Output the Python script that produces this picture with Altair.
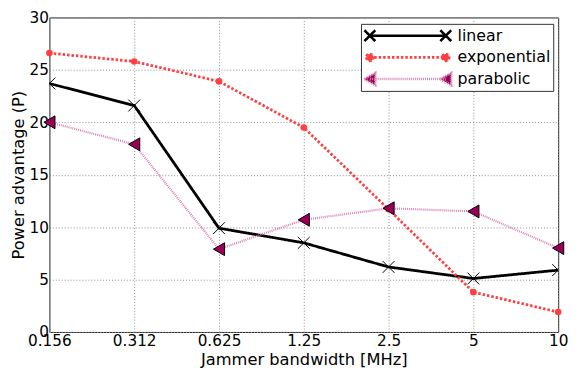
import altair as alt
import pandas as pd

# ---- data ----
bandwidth = ["0.156", "0.312", "0.625", "1.25", "2.5", "5", "10"]
series = ["linear", "exponential", "parabolic"]
linear = [23.7, 21.6, 9.9, 8.5, 6.2, 5.1, 5.9]
exponential = [26.6, 25.8, 23.9, 19.5, 11.7, 3.8, 1.9]
parabolic = [20.0, 17.9, 7.9, 10.7, 11.8, 11.5, 8.0]
y_ticks = [0, 5, 10, 15, 20, 25, 30]

values = {"linear": linear, "exponential": exponential, "parabolic": parabolic}
rows = []
for s in series:
    for bw, v in zip(bandwidth, values[s]):
        rows.append({"series": s, "bw": bw, "value": v})
df = pd.DataFrame(rows)

# ---- styles ----
FONT = "DejaVu Sans"
line_colors = ["#000000", "#ff4040", "#d982b5"]
dashes = [[1, 0], [2.5, 2], [1, 1]]
X_PATH = "M-1,-1L1,1M-1,1L1,-1"

leg_lin = ("M-0.875,0L0.875,0 M-1,-0.125L-0.75,0.125 M-1,0.125L-0.75,-0.125 "
           "M0.75,-0.125L1,0.125 M0.75,0.125L1,-0.125")
leg_exp = ("M-0.875,0L0.875,0 M-0.955,0A0.08,0.08 0 1,0 -0.795,0A0.08,0.08 0 1,0 -0.955,0Z "
           "M0.795,0A0.08,0.08 0 1,0 0.955,0A0.08,0.08 0 1,0 0.795,0Z")
leg_par = "M-0.875,0L0.875,0 M-1,0L-0.75,-0.14L-0.75,0.14Z M0.75,0L1,-0.14L1,0.14Z"

shape_expr = (f"datum.value === 'linear' ? '{leg_lin}' : "
              f"datum.value === 'exponential' ? '{leg_exp}' : '{leg_par}'")
fill_expr = ("datum.value === 'linear' ? 'transparent' : "
             "datum.value === 'exponential' ? '#ff4040' : '#990055'")
dash_expr = ("datum.value === 'exponential' ? [2.5, 2] : "
             "datum.value === 'parabolic' ? [1, 1] : [1, 0]")

x_enc = alt.X(
    "bw:N",
    sort=bandwidth,
    scale=alt.Scale(type="point", padding=0),
    axis=alt.Axis(title="Jammer bandwidth [MHz]", labelAngle=0, labelFlush=False,
                  labelOverlap=False, labelPadding=2, titlePadding=3),
)
y_enc = alt.Y(
    "value:Q",
    scale=alt.Scale(domain=[0, 30], nice=False, zero=False),
    axis=alt.Axis(title="Power advantage (P)", values=y_ticks, labelPadding=1,
                  titlePadding=3, labelOverlap=False),
)

legend = alt.Legend(
    title=None,
    orient="none",
    legendX=316,
    legendY=6.5,
    strokeColor="#333333",
    fillColor="white",
    padding=2,
    cornerRadius=0,
    labelFont=FONT,
    labelFontSize=16,
    labelColor="#000000",
    symbolSize=7744,
    symbolStrokeWidth=2.6,
    clipHeight=20,
    rowPadding=2,
    labelOffset=5,
    symbolOffset=0,
    symbolType={"expr": shape_expr},
    symbolFillColor={"expr": fill_expr},
    symbolDash={"expr": dash_expr},
)

lines = alt.Chart(df).mark_line().encode(
    x=x_enc,
    y=y_enc,
    color=alt.Color("series:N", scale=alt.Scale(domain=series, range=line_colors), legend=legend),
    strokeDash=alt.StrokeDash("series:N", scale=alt.Scale(domain=series, range=dashes), legend=None),
    strokeWidth=alt.condition(alt.datum.series == "parabolic", alt.value(2.2), alt.value(2.8)),
)

pts_lin = alt.Chart(df).transform_filter(alt.datum.series == "linear").mark_point(
    shape=X_PATH, filled=False, stroke="#000000", strokeWidth=1, size=144, opacity=1, clip=True
).encode(x=x_enc, y=y_enc)

pts_exp = alt.Chart(df).transform_filter(alt.datum.series == "exponential").mark_point(
    shape="circle", filled=True, fill="#ff4040", size=45, opacity=1
).encode(x=x_enc, y=y_enc)

pts_par = alt.Chart(df).transform_filter(alt.datum.series == "parabolic").mark_point(
    shape="triangle-left", filled=True, fill="#990055", stroke="#000000", strokeWidth=1,
    size=170, opacity=1
).encode(x=x_enc, y=y_enc)

chart = (
    alt.layer(lines, pts_lin, pts_exp, pts_par)
    .properties(
        width=516,
        height=319,
        autosize=alt.AutoSizeParams(type="none"),
        padding={"left": 42, "top": 7, "right": 12, "bottom": 37},
    )
    .configure_view(stroke="#222222", strokeWidth=1)
    .configure_axis(
        domain=False,
        ticks=False,
        grid=True,
        gridColor="#8c8c8c",
        gridDash=[1, 2],
        gridWidth=1,
        labelFont=FONT,
        labelFontSize=15.5,
        labelColor="#000000",
        titleFont=FONT,
        titleFontSize=16.5,
        titleFontWeight="normal",
        titleColor="#000000",
    )
)

chart.save("out.html", embed_options={"renderer": "svg", "actions": False})
